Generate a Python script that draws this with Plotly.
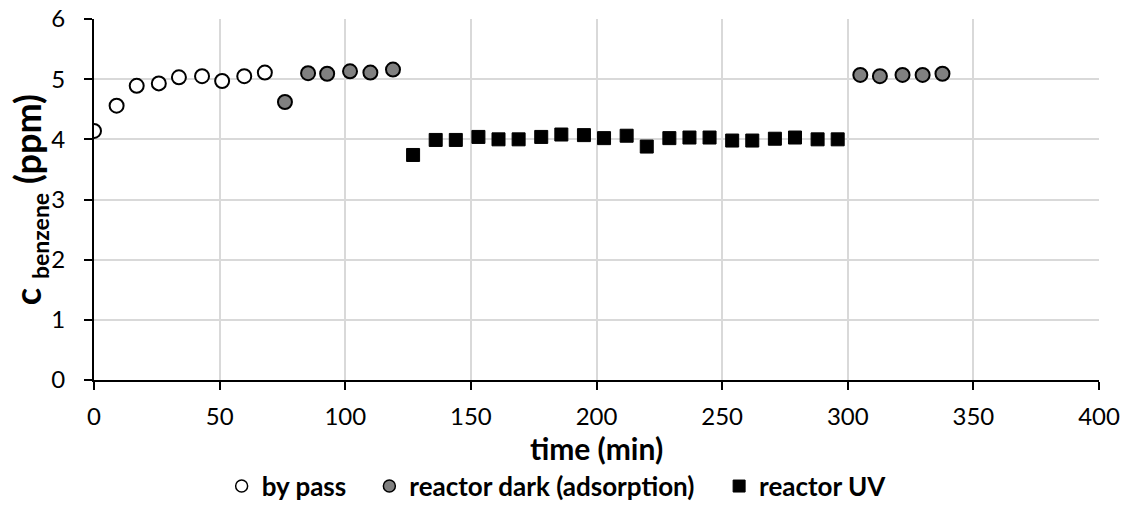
import plotly.graph_objects as go

bypass_t = [0, 9, 17, 25.8, 33.8, 43, 51, 59.8, 68]
bypass_c = [4.14, 4.56, 4.89, 4.93, 5.03, 5.05, 4.97, 5.05, 5.11]

dark_t = [76, 85.2, 92.8, 101.9, 110, 119, 305, 312.8, 321.8, 329.8, 337.7]
dark_c = [4.62, 5.10, 5.09, 5.13, 5.11, 5.16, 5.07, 5.05, 5.07, 5.07, 5.09]

uv_t = [127, 136, 144, 153, 161, 169, 178, 186, 195, 203, 212, 220, 229, 237,
        245, 254, 262, 271, 279, 288, 296]
uv_c = [3.74, 3.99, 3.99, 4.04, 4.00, 4.00, 4.04, 4.08, 4.07, 4.02, 4.06, 3.88,
        4.02, 4.03, 4.03, 3.98, 3.98, 4.01, 4.03, 4.00, 4.00]

names = ["by pass", "reactor dark (adsorption)", "reactor UV"]
y_title = "<b>c <sub><span style='font-size:23px'>benzene</span></sub> (ppm)</b>"
x_title = "<b>time (min)</b>"

FONT = "Lato"
fig = go.Figure()

fig.add_trace(go.Scatter(x=bypass_t, y=bypass_c, mode="markers", showlegend=False,
                         marker=dict(symbol="circle", size=14, color="white",
                                     line=dict(color="black", width=2))))
fig.add_trace(go.Scatter(x=dark_t, y=dark_c, mode="markers", showlegend=False,
                         marker=dict(symbol="circle", size=14, color="#808080",
                                     line=dict(color="black", width=2))))
fig.add_trace(go.Scatter(x=uv_t, y=uv_c, mode="markers", showlegend=False,
                         marker=dict(symbol="square", size=13, color="black",
                                     line=dict(color="black", width=1))))

# legend entries (one legend per entry so the spacing can follow the reference)
fig.add_trace(go.Scatter(x=[None], y=[None], mode="markers",
                         name="<b>" + names[0] + "</b>", legend="legend",
                         marker=dict(symbol="circle", size=12, color="white",
                                     line=dict(color="black", width=1.5))))
fig.add_trace(go.Scatter(x=[None], y=[None], mode="markers",
                         name="<b>" + names[1] + "</b>", legend="legend2",
                         marker=dict(symbol="circle", size=12, color="#808080",
                                     line=dict(color="black", width=1.5))))
fig.add_trace(go.Scatter(x=[None], y=[None], mode="markers",
                         name="<b>" + names[2] + "</b>", legend="legend3",
                         marker=dict(symbol="square", size=12, color="black",
                                     line=dict(color="black", width=1))))

leg = dict(orientation="h", yanchor="middle", y=-0.294, xanchor="left",
           font=dict(size=26, family=FONT), itemsizing="trace",
           bgcolor="rgba(0,0,0,0)", borderwidth=0)

fig.update_layout(
    width=1129, height=507,
    margin=dict(l=94, r=30, t=19, b=127, autoexpand=False),
    plot_bgcolor="white", paper_bgcolor="white",
    font=dict(family=FONT, size=24, color="black"),
    xaxis=dict(range=[0, 400], dtick=50, showgrid=True, gridcolor="#d9d9d9",
               gridwidth=1.5, zeroline=False, showline=True, linecolor="black",
               linewidth=2, ticks="outside", ticklen=8, tickcolor="black",
               tickwidth=1.5, ticklabelstandoff=6, automargin=False,
               title=dict(text=x_title, font=dict(size=30), standoff=2),
               tickfont=dict(size=24)),
    yaxis=dict(range=[0, 6], dtick=1, showgrid=True, gridcolor="#d9d9d9",
               gridwidth=1.5, zeroline=False, showline=True, linecolor="black",
               linewidth=2, ticks="outside", ticklen=8, tickcolor="black",
               tickwidth=1.5, ticklabelstandoff=14, automargin=False,
               tickfont=dict(size=24)),
    legend=dict(leg, x=0.127),
    legend2=dict(leg, x=0.274),
    legend3=dict(leg, x=0.622),
    annotations=[dict(text=y_title, xref="paper", yref="paper", x=-0.064, y=0.5,
                      xanchor="center", yanchor="middle", textangle=-90,
                      showarrow=False, font=dict(size=36, family=FONT))],
)

fig.write_html("out.html")
